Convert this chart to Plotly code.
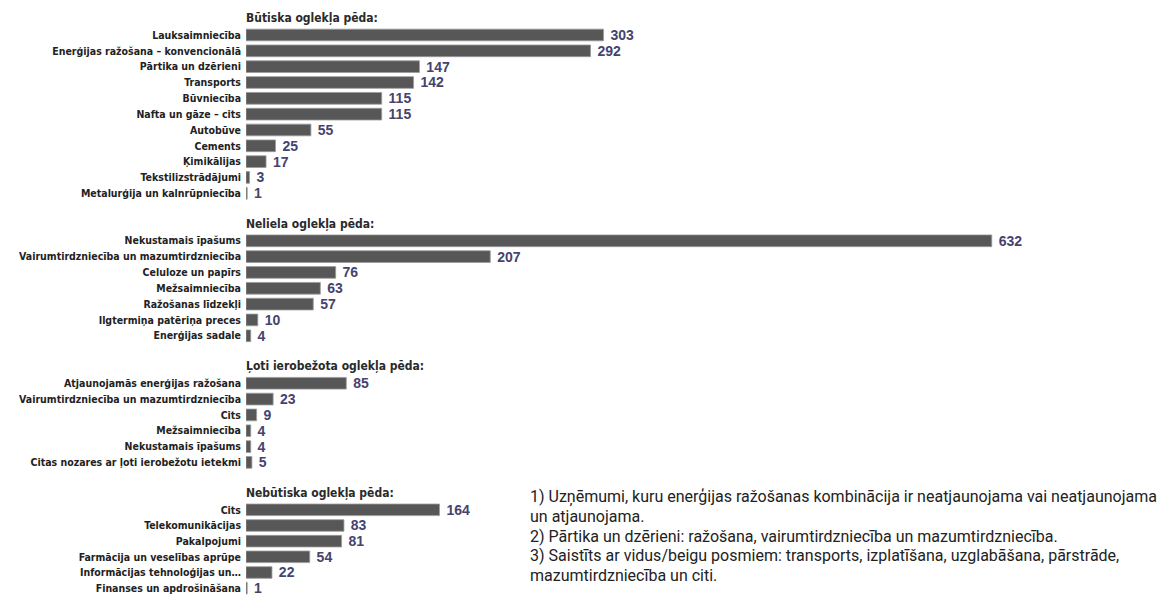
import plotly.graph_objects as go

# The page body has an 8px margin, so the figure is drawn at (8, 8)
OFF = 8
W, H = 1167 - OFF, 596 - OFF

group_titles = ["Būtiska oglekļa pēda:", "Neliela oglekļa pēda:",
                "Ļoti ierobežota oglekļa pēda:", "Nebūtiska oglekļa pēda:"]

cats1 = ["Lauksaimniecība", "Enerģijas ražošana – konvencionālā", "Pārtika un dzērieni",
         "Transports", "Būvniecība", "Nafta un gāze – cits", "Autobūve", "Cements",
         "Ķimikālijas", "Tekstilizstrādājumi", "Metalurģija un kalnrūpniecība"]
vals1 = [303, 292, 147, 142, 115, 115, 55, 25, 17, 3, 1]

cats2 = ["Nekustamais īpašums", "Vairumtirdzniecība un mazumtirdzniecība", "Celuloze un papīrs",
         "Mežsaimniecība", "Ražošanas līdzekļi", "Ilgtermiņa patēriņa preces", "Enerģijas sadale"]
vals2 = [632, 207, 76, 63, 57, 10, 4]

cats3 = ["Atjaunojamās enerģijas ražošana", "Vairumtirdzniecība un mazumtirdzniecība", "Cits",
         "Mežsaimniecība", "Nekustamais īpašums", "Citas nozares ar ļoti ierobežotu ietekmi"]
vals3 = [85, 23, 9, 4, 4, 5]

cats4 = ["Cits", "Telekomunikācijas", "Pakalpojumi", "Farmācija un veselības aprūpe",
         "Informācijas tehnoloģijas un…", "Finanses un apdrošināšana"]
vals4 = [164, 83, 81, 54, 22, 1]

footnotes = [
    "1) Uzņēmumi, kuru enerģijas ražošanas kombinācija ir neatjaunojama vai neatjaunojama",
    "un atjaunojama.",
    "2) Pārtika un dzērieni: ražošana, vairumtirdzniecība un mazumtirdzniecība.",
    "3) Saistīts ar vidus/beigu posmiem: transports, izplatīšana, uzglabāšana, pārstrāde,",
    "mazumtirdzniecība un citi.",
]

groups = [(cats1, vals1), (cats2, vals2), (cats3, vals3), (cats4, vals4)]

# layout geometry (pixels, in window coordinates, converted below)
left = 246 - OFF
plot_w = W - left
px_per_unit = 1.18
pitch = 15.83
first_center = 35.0 - OFF
gap_rows = 3

BAR_COLOR = "#575757"
VAL_COLOR = "#46436f"
LABEL_FONT = "Liberation Sans Narrow, DejaVu Sans Condensed, Arial Narrow, sans-serif"

fig = go.Figure()
row_idx = 0
annotations = []
for gi, (cats, vals) in enumerate(groups):
    top_px = first_center + row_idx * pitch - pitch / 2
    bot_px = top_px + len(cats) * pitch
    row_idx += len(cats) - 1 + gap_rows
    y0 = max(0.0, 1 - bot_px / H)
    y1 = 1 - top_px / H
    suffix = "" if gi == 0 else str(gi + 1)
    fig.add_trace(go.Bar(
        x=vals, y=cats, orientation="h",
        xaxis="x" + suffix, yaxis="y" + suffix,
        marker=dict(color=BAR_COLOR, line=dict(color="#9c9c9c", width=0.8)),
        text=vals, textposition="outside", texttemplate=" %{text}",
        constraintext="none",
        textfont=dict(family="Liberation Sans, Arial, sans-serif", size=14,
                      color=VAL_COLOR, weight="bold"),
        cliponaxis=False, showlegend=False, hoverinfo="x+y",
    ))
    fig.layout["xaxis" + suffix] = dict(
        domain=[0, 1], range=[0, plot_w / px_per_unit], visible=False,
        anchor="y" + suffix, fixedrange=True)
    fig.layout["yaxis" + suffix] = dict(
        domain=[y0, y1], anchor="x" + suffix, autorange="reversed",
        type="category", showgrid=False, showline=False, ticks="",
        ticklabelstandoff=4,
        tickfont=dict(family=LABEL_FONT, size=10.5, color="#222222", weight="bold"))
    annotations.append(dict(
        xref="paper", yref="paper", x=-0.002, y=y1, xanchor="left", yanchor="bottom",
        text=group_titles[gi], showarrow=False,
        font=dict(family=LABEL_FONT, size=12, color="#2a2a2a", weight="bold")))

foot_x = (528 - OFF - left) / plot_w
for i, line in enumerate(footnotes):
    ypx = 497 - OFF + i * 19.5
    annotations.append(dict(
        xref="paper", yref="paper", x=foot_x, y=1 - ypx / H, xanchor="left",
        yanchor="middle", text=line, showarrow=False,
        font=dict(family="Roboto, Liberation Sans, sans-serif", size=16, color="#222222")))

fig.update_layout(
    width=W, height=H, autosize=False,
    margin=dict(l=left, r=0, t=0, b=0),
    paper_bgcolor="white", plot_bgcolor="white",
    bargap=0.26, annotations=annotations,
)

fig.write_html("out.html")
